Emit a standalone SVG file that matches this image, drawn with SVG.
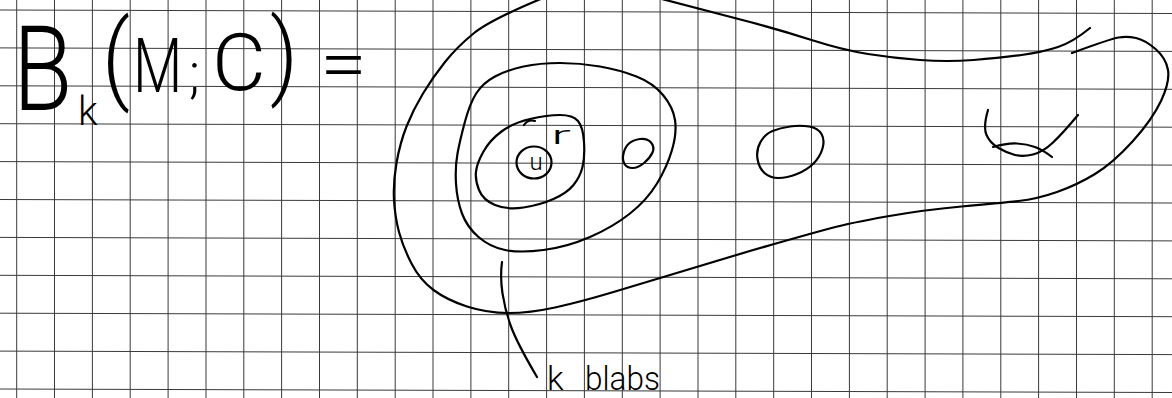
<svg xmlns="http://www.w3.org/2000/svg" width="1172" height="398" viewBox="0 0 1172 398">
<style>
.grid line{stroke:#3a3a3a;stroke-width:1}
.ink{fill:none;stroke:#000;stroke-width:2.2;stroke-linecap:round;stroke-linejoin:round}
.hand{font-family:"Roboto","Lato","Liberation Sans",sans-serif;font-weight:300;fill:#000}
</style>
<rect width="1172" height="398" fill="#fff"/>
<g class="grid" id="grid">
<line x1="16.7" y1="0" x2="16.7" y2="398"/><line x1="54.5" y1="0" x2="54.5" y2="398"/><line x1="92.4" y1="0" x2="92.4" y2="398"/><line x1="130.2" y1="0" x2="130.2" y2="398"/><line x1="168.1" y1="0" x2="168.1" y2="398"/><line x1="206" y1="0" x2="206" y2="398"/><line x1="243.8" y1="0" x2="243.8" y2="398"/><line x1="281.6" y1="0" x2="281.6" y2="398"/><line x1="319.5" y1="0" x2="319.5" y2="398"/><line x1="357.3" y1="0" x2="357.3" y2="398"/><line x1="395.2" y1="0" x2="395.2" y2="398"/><line x1="433" y1="0" x2="433" y2="398"/><line x1="470.9" y1="0" x2="470.9" y2="398"/><line x1="508.7" y1="0" x2="508.7" y2="398"/><line x1="546.6" y1="0" x2="546.6" y2="398"/><line x1="584.4" y1="0" x2="584.4" y2="398"/><line x1="622.3" y1="0" x2="622.3" y2="398"/><line x1="660.1" y1="0" x2="660.1" y2="398"/><line x1="698" y1="0" x2="698" y2="398"/><line x1="735.8" y1="0" x2="735.8" y2="398"/><line x1="773.7" y1="0" x2="773.7" y2="398"/><line x1="811.5" y1="0" x2="811.5" y2="398"/><line x1="849.4" y1="0" x2="849.4" y2="398"/><line x1="887.2" y1="0" x2="887.2" y2="398"/><line x1="925.1" y1="0" x2="925.1" y2="398"/><line x1="962.9" y1="0" x2="962.9" y2="398"/><line x1="1000.8" y1="0" x2="1000.8" y2="398"/><line x1="1038.6" y1="0" x2="1038.6" y2="398"/><line x1="1076.5" y1="0" x2="1076.5" y2="398"/><line x1="1114.3" y1="0" x2="1114.3" y2="398"/><line x1="1152.2" y1="0" x2="1152.2" y2="398"/>
<line x1="0" y1="10" x2="1172" y2="13.5"/><line x1="0" y1="47.9" x2="1172" y2="51.4"/><line x1="0" y1="85.8" x2="1172" y2="89.3"/><line x1="0" y1="123.7" x2="1172" y2="127.2"/><line x1="0" y1="161.6" x2="1172" y2="165.1"/><line x1="0" y1="199.5" x2="1172" y2="203"/><line x1="0" y1="237.4" x2="1172" y2="240.9"/><line x1="0" y1="275.3" x2="1172" y2="278.8"/><line x1="0" y1="313.2" x2="1172" y2="316.7"/><line x1="0" y1="351.1" x2="1172" y2="354.6"/><line x1="0" y1="389" x2="1172" y2="392.5"/>
</g>
<g id="title" class="hand">
<text transform="translate(13,110) scale(1,1.22)" font-size="97">B</text>
<text x="78" y="125" font-size="40">k</text>
<text x="102" y="91" font-size="98" textLength="28" lengthAdjust="spacingAndGlyphs">(</text>
<text transform="translate(133,92) scale(1,1.33)" font-size="57">M</text>
<text x="189" y="92" font-size="55">;</text>
<text x="212" y="90" font-size="80" textLength="54" lengthAdjust="spacingAndGlyphs">C</text>
<text x="270" y="87" font-size="94" textLength="28" lengthAdjust="spacingAndGlyphs">)</text>
<text x="320" y="88" font-size="70" textLength="47" lengthAdjust="spacingAndGlyphs">=</text>
</g>
<g id="outer-blob">
<path class="ink" d="M543,-2 Q490,20 473.5,33.5 Q457,47 445,62 Q433,77 423,93.5 Q413,110 406.5,126.5 Q400,143 396.5,163 Q393,183 394,200 Q395,217 399,232 Q403,247 411.5,263.5 Q420,280 433.5,290 Q447,300 467,306.5 Q487,313 508.5,313 Q530,313 555,307.5 Q580,302 613.5,292 Q647,282 680,272 Q713,262 736.5,255 Q760,248 786.5,240.5 Q813,233 831.5,228 Q850,223 886.5,216.5 Q923,210 961.5,206.5 Q1000,203 1018.5,201 Q1037,199 1057,192 Q1077,185 1095,174 Q1113,163 1132.5,141.5 Q1152,120 1161,101 Q1170,82 1168,70 Q1166,58 1155.5,49 Q1145,40 1136,38 Q1127,36 1118.5,37.5 Q1110,39 1072,53"/>
<path class="ink" d="M658,-2 Q720,14 750,22 Q780,30 811.5,40 Q843,50 868,54 Q893,58 920,60 Q947,62 973.5,60 Q1000,58 1021.5,55 Q1043,52 1058,47 Q1073,42 1090,28"/>
</g>
<g id="middle-blob">
<path class="ink" d="M465,121.5 Q470,103 476.5,93 Q483,83 495,76.5 Q507,70 523.5,66.5 Q540,63 560,63 Q580,63 600,66.5 Q620,70 636.5,76.5 Q653,83 663,95 Q673,107 675,120 Q677,133 672,150 Q667,167 657,183.5 Q647,200 630,213.5 Q613,227 590,237 Q567,247 543.5,250 Q520,253 505,250 Q490,247 478.5,237 Q467,227 462,213.5 Q457,200 456,183.5 Q455,167 457.5,153.5 Q460,140 465,121.5 Z"/>
</g>
<g id="inner-blob">
<path class="ink" d="M476,171.5 Q477,163 483.5,151.5 Q490,140 501.5,131.5 Q513,123 530,119 Q547,115 560,115 Q573,115 578,121 Q583,127 584,142 Q585,157 582.5,167 Q580,177 573.5,185 Q567,193 553.5,199 Q540,205 523.5,207.5 Q507,210 495,205 Q483,200 479,190 Q475,180 476,171.5 Z"/>
<path class="ink" d="M524,125 Q528,119 535,121"/>
<text class="hand" x="551" y="144" font-size="26" textLength="20" lengthAdjust="spacingAndGlyphs">r</text>
</g>
<g id="u-node">
<ellipse class="ink" cx="534" cy="162.5" rx="17.5" ry="16"/>
<text class="hand" x="536" y="170" font-size="24" text-anchor="middle">u</text>
</g>
<g id="blob-2">
<path class="ink" d="M629,143.5 Q633,140 640,139 Q647,138 651,142.5 Q655,147 652.5,152.5 Q650,158 644,163 Q638,168 632.5,168 Q627,168 624.5,164 Q622,160 623.5,153.5 Q625,147 629,143.5 Z"/>
</g>
<g id="blob-3">
<path class="ink" d="M772.5,131 Q780,128 790,126.5 Q800,125 809,126.5 Q818,128 821.5,134 Q825,140 822.5,148.5 Q820,157 813.5,163.5 Q807,170 797,174 Q787,178 778.5,178 Q770,178 764.5,173 Q759,168 757.5,159 Q756,150 760.5,142 Q765,134 772.5,131 Z"/>
</g>
<g id="blob-4">
<path class="ink" d="M988,110 Q983,127 986.5,135 Q990,143 998.5,148 Q1007,153 1015,155 Q1023,157 1033,154.5 Q1043,152 1053,142.5 Q1063,133 1078,115"/>
<path class="ink" d="M993,147 Q1007,143 1017,143.5 Q1027,144 1035,147 Q1043,150 1052,157"/>
</g>
<g id="label" class="hand">
<text x="547" y="390" font-size="34">k</text>
<text x="585" y="390" font-size="34" textLength="75" lengthAdjust="spacingAndGlyphs">blabs</text>
</g>
<g id="connectors">
<path class="ink" d="M502,262 Q500,277 502.5,293.5 Q505,310 511,326.5 Q517,343 537,377"/>
</g>
</svg>
